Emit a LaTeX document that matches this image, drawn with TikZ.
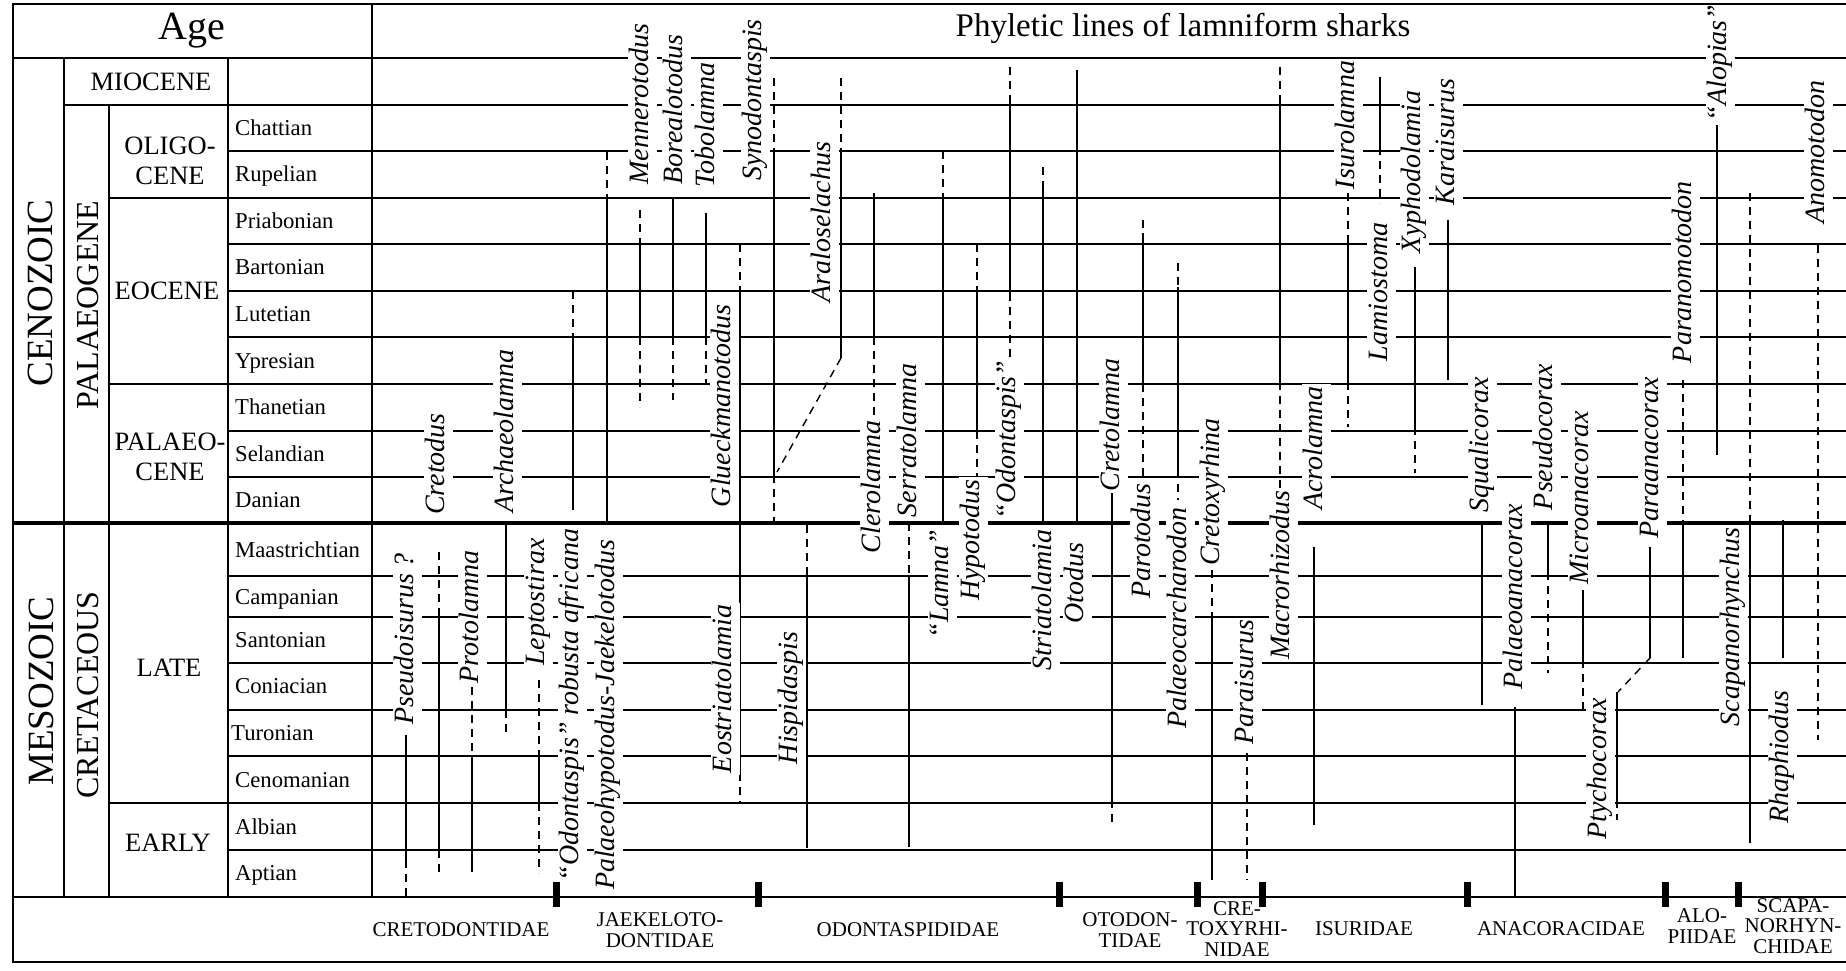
\documentclass[tikz,border=0pt]{standalone}
\usepackage{fontspec}
\setmainfont{Liberation Serif}
\begin{document}
\begin{tikzpicture}[x=1pt,y=-1pt,
  grid/.style={line width=1.2pt},
  lin/.style={line width=1.4pt},
  dsh/.style={line width=1.4pt,dash pattern=on 8pt off 6pt},
  gen/.style={rotate=90,fill=white,inner xsep=2pt,inner ysep=2pt,font=\fontsize{28}{30}\selectfont\itshape,text height=19pt,text depth=6pt},
  stg/.style={anchor=base west,inner sep=0pt,font=\fontsize{22.7}{24}\selectfont},
  ep/.style={align=center,inner sep=0pt,font=\fontsize{26.5}{30}\selectfont},
  era/.style={rotate=90,inner sep=0pt,font=\fontsize{37}{40}\selectfont},
  per/.style={rotate=90,inner sep=0pt,font=\fontsize{32}{34}\selectfont},
  fam/.style={align=center,inner sep=0pt,font=\fontsize{21}{20.5}\selectfont},
  bar/.style={fill=black}
]
\useasboundingbox (0,0) rectangle (1846,970);
\fill[white] (0,0) rectangle (1846,970);
% grid
\foreach \y in {151,244,291,337,431,477,576,617,663,710,756,850} \draw[grid] (228,\y)--(1846,\y);
\foreach \y in {198,384,803} \draw[grid] (109,\y)--(1846,\y);
\draw[grid] (64,105)--(1846,105);
\draw[grid] (13,58)--(1846,58);
\draw[grid] (13,897)--(1846,897);
\draw[grid] (64,58)--(64,897);
\draw[grid] (109,105)--(109,897);
\draw[grid] (228,58)--(228,897);
\draw[grid] (372,4)--(372,897);
\draw[line width=4.2pt] (13,523)--(1846,523);
% lineages
\draw[lin] (406,735)--(406,860); \draw[dsh] (406,860)--(406,897);
\draw[dsh] (439,552)--(439,617); \draw[lin] (439,617)--(439,850); \draw[dsh] (439,850)--(439,877);
\draw[dsh] (472,687)--(472,756); \draw[lin] (472,756)--(472,872);
\draw[lin] (506,523)--(506,710); \draw[dsh] (506,710)--(506,737);
\draw[dsh] (539,680)--(539,756); \draw[lin] (539,756)--(539,803); \draw[dsh] (539,803)--(539,873);
\draw[dsh] (573,291)--(573,337); \draw[lin] (573,337)--(573,510);
\draw[dsh] (607,152)--(607,198); \draw[lin] (607,198)--(607,523);
\draw[dsh] (640,210)--(640,244); \draw[lin] (640,244)--(640,337); \draw[dsh] (640,337)--(640,407);
\draw[lin] (673,198)--(673,337); \draw[dsh] (673,337)--(673,400);
\draw[lin] (706,213)--(706,337); \draw[dsh] (706,337)--(706,384);
\draw[dsh] (740,244)--(740,291); \draw[lin] (740,291)--(740,773); \draw[dsh] (740,773)--(740,803);
\draw[dsh] (774,78)--(774,151); \draw[lin] (774,151)--(774,475); \draw[dsh] (774,475)--(774,523);
\draw[dsh] (841,78)--(841,151); \draw[lin] (841,151)--(841,358); \draw[dsh] (841,358)--(777,472);
\draw[dsh] (807,525)--(807,576); \draw[lin] (807,576)--(807,848);
\draw[lin] (874,193)--(874,337); \draw[dsh] (874,337)--(874,415);
\draw[dsh] (909,523)--(909,576); \draw[lin] (909,576)--(909,847);
\draw[dsh] (943,151)--(943,193); \draw[lin] (943,193)--(943,523);
\draw[dsh] (977,244)--(977,291); \draw[lin] (977,291)--(977,431); \draw[dsh] (977,431)--(977,478);
\draw[dsh] (1010,67)--(1010,100); \draw[lin] (1010,100)--(1010,293); \draw[dsh] (1010,293)--(1010,360);
\draw[dsh] (1043,167)--(1043,187); \draw[lin] (1043,187)--(1043,523);
\draw[lin] (1077,70)--(1077,523);
\draw[lin] (1112,492)--(1112,800); \draw[dsh] (1112,800)--(1112,822);
\draw[dsh] (1143,220)--(1143,233); \draw[lin] (1143,233)--(1143,384); \draw[dsh] (1143,384)--(1143,480);
\draw[dsh] (1178,263)--(1178,287); \draw[lin] (1178,287)--(1178,470); \draw[dsh] (1178,470)--(1178,500);
\draw[dsh] (1212,570)--(1212,615); \draw[lin] (1212,615)--(1212,880);
\draw[dsh] (1247,753)--(1247,880);
\draw[dsh] (1280,67)--(1280,97); \draw[lin] (1280,97)--(1280,382); \draw[dsh] (1280,382)--(1280,495);
\draw[lin] (1314,547)--(1314,825);
\draw[dsh] (1348,193)--(1348,240); \draw[lin] (1348,240)--(1348,382); \draw[dsh] (1348,382)--(1348,427);
\draw[lin] (1380,77)--(1380,147); \draw[dsh] (1380,147)--(1380,203);
\draw[lin] (1415,267)--(1415,427); \draw[dsh] (1415,427)--(1415,473);
\draw[lin] (1448,220)--(1448,380);
\draw[lin] (1482,523)--(1482,705);
\draw[lin] (1515,707)--(1515,897);
\draw[lin] (1548,523)--(1548,572); \draw[dsh] (1548,572)--(1548,673);
\draw[lin] (1583,590)--(1583,660); \draw[dsh] (1583,660)--(1583,710);
\draw[lin] (1650,547)--(1650,658); \draw[dsh] (1650,658)--(1618,692);
\draw[lin] (1617,692)--(1617,800); \draw[dsh] (1617,800)--(1617,820);
\draw[dsh] (1683,380)--(1683,523); \draw[lin] (1683,523)--(1683,658);
\draw[lin] (1717,125)--(1717,455);
\draw[dsh] (1750,193)--(1750,523); \draw[lin] (1750,523)--(1750,843);
\draw[lin] (1783,520)--(1783,658);
\draw[dsh] (1818,245)--(1818,740);
% genus labels
\node[gen] (menn) at (642,104) {Mennerotodus};
\node[gen] (bore) at (676,110) {Borealotodus};
\node[gen] (tobo) at (708,125) {Tobolamna};
\node[gen] (syno) at (755,100) {Synodontaspis};
\node[gen] (aral) at (824,222) {Araloselachus};
\node[gen] (glue) at (724,406) {Glueckmanotodus};
\node[gen] (eost) at (725,689) {Eostriatolamia};
\node[gen] (hisp) at (791,698) {Hispidaspis};
\node[gen] (cler) at (874,487) {Clerolamna};
\node[gen] (serr) at (910,440) {Serratolamna};
\node[gen] (lamn) at (942,584) {“Lamna”};
\node[gen] (hypo) at (973,540) {Hypotodus};
\node[gen] (odon) at (1009,440) {“Odontaspis”};
\node[gen] (stri) at (1045,600) {Striatolamia};
\node[gen] (otod) at (1077,583) {Otodus};
\node[gen] (cret) at (1113,425) {Cretolamna};
\node[gen] (paro) at (1144,541) {Parotodus};
\node[gen] (palc) at (1180,618) {Palaeocarcharodon};
\node[gen] (ctxr) at (1213,492) {Cretoxyrhina};
\node[gen] (pari) at (1247,682) {Paraisurus};
\node[gen] (macr) at (1283,575) {Macrorhizodus};
\node[gen] (acro) at (1316,448) {Acrolamna};
\node[gen] (isur) at (1348,125) {Isurolamna};
\node[gen] (lami) at (1381,292) {Lamiostoma};
\node[gen] (xyph) at (1414,172) {Xyphodolamia};
\node[gen] (kara) at (1448,142) {Karaisurus};
\node[gen] (squa) at (1482,445) {Squalicorax};
\node[gen] (pseu) at (1546,437) {Pseudocorax};
\node[gen] (pala) at (1516,597) {Palaeoanacorax};
\node[gen] (micr) at (1582,498) {Microanacorax};
\node[gen] (para) at (1652,458) {Paraanacorax};
\node[gen] (ptyc) at (1600,769) {Ptychocorax};
\node[gen] (pano) at (1685,272) {Paranomotodon};
\node[gen] (alop) at (1720,63) {“Alopias”};
\node[gen] (anom) at (1818,152) {Anomotodon};
\node[gen] (scap) at (1733,627) {Scapanorhynchus};
\node[gen] (rhap) at (1782,757) {Rhaphiodus};
\node[gen] (crtd) at (438,464) {Cretodus};
\node[gen] (arch) at (507,431) {Archaeolamna};
\node[gen] (pseo) at (407,639) {Pseudoisurus ?};
\node[gen] (prot) at (472,617) {Protolamna};
\node[gen] (lept) at (538,602) {Leptostirax};
\node[gen] (odra) at (572,705) {“Odontaspis” robusta africana};
\node[gen] (pajk) at (608,715) {Palaeohypotodus-Jaekelotodus};
% title
\node[font=\fontsize{33}{36}\selectfont] (title) at (1183,28) {Phyletic lines of lamniform sharks};
% family bars
\foreach \x in {556,758,1059,1197,1262,1467,1665,1738} \fill[bar] (\x-3.5,882) rectangle (\x+3.5,907);
% family names
\node[fam] (f1) at (461,930) {CRETODONTIDAE};
\node[fam] (f2) at (660,930) {JAEKELOTO-\\DONTIDAE};
\node[fam] (f3) at (908,930) {ODONTASPIDIDAE};
\node[fam] (f4) at (1130,930) {OTODON-\\TIDAE};
\node[fam] (f5) at (1237,929) {CRE-\\TOXYRHI-\\NIDAE};
\node[fam] (f6) at (1364,929) {ISURIDAE};
\node[fam] (f7) at (1561,929) {ANACORACIDAE};
\node[fam] (f8) at (1702,926) {ALO-\\PIIDAE};
\node[fam] (f9) at (1793,926) {SCAPA-\\NORHYN-\\CHIDAE};
% left column
\node[font=\fontsize{40}{44}\selectfont] (age) at (192,31) {Age};
\node[ep] (mio) at (151,82) {MIOCENE};
\node[ep] (oli) at (170,161) {OLIGO-\\CENE};
\node[ep] (eoc) at (167,291) {EOCENE};
\node[ep] (pal) at (170,457) {PALAEO-\\CENE};
\node[ep] (late) at (169,668) {LATE};
\node[ep] (early) at (168,843) {EARLY};
\node[era] (ceno) at (40,293) {CENOZOIC};
\node[per] (pgene) at (88,305) {PALAEOGENE};
\node[era] (meso) at (41,691) {MESOZOIC};
\node[per] (creta) at (88,695) {CRETACEOUS};
\node[stg] at (235,135.5) {Chattian};
\node[stg] at (235,181.5) {Rupelian};
\node[stg] at (235,228.5) {Priabonian};
\node[stg] at (235,274.5) {Bartonian};
\node[stg] at (235,321.5) {Lutetian};
\node[stg] at (235,368.5) {Ypresian};
\node[stg] at (235,414.5) {Thanetian};
\node[stg] at (235,461.5) {Selandian};
\node[stg] at (235,507.5) {Danian};
\node[stg] at (235,557.5) {Maastrichtian};
\node[stg] at (235,604.5) {Campanian};
\node[stg] at (235,647.5) {Santonian};
\node[stg] at (235,693.5) {Coniacian};
\node[stg] at (231,740.5) {Turonian};
\node[stg] at (235,787.5) {Cenomanian};
\node[stg] at (235,834.5) {Albian};
\node[stg] at (235,880.5) {Aptian};
% frame
\draw[line width=1.5pt] (1846,4)--(13,4)--(13,962)--(1846,962);
\end{tikzpicture}
\end{document}
